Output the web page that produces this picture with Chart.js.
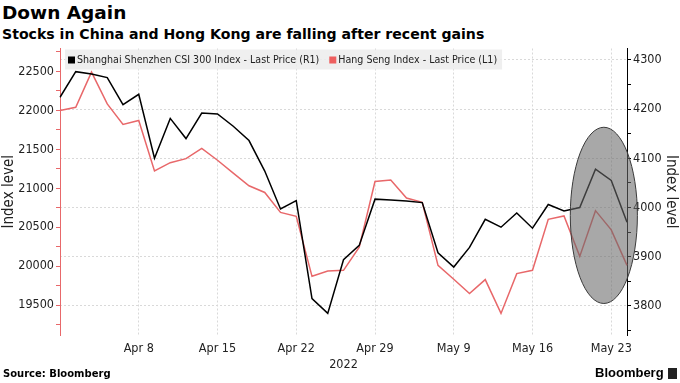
<!DOCTYPE html>
<html>
<head>
<meta charset="utf-8">
<script src="https://cdn.jsdelivr.net/npm/chart.js@4"></script>
<style>
    body { margin: 0; width: 680px; height: 383px; background: #fff; position: relative; overflow: hidden; font-family: "Liberation Sans", Arial, sans-serif; }
    #title { position: absolute; left: 2px; top: 2px; font-family: "DejaVu Sans", sans-serif; font-size: 18.5px; font-weight: bold; color: #000; }
    #subtitle { position: absolute; left: 2px; top: 26px; font-family: "DejaVu Sans", sans-serif; font-size: 14.1px; font-weight: bold; color: #000; }
    #chartBox { position: absolute; left: 0; top: 39px; width: 680px; height: 333px; }
    #source { position: absolute; left: 3px; top: 368px; font-family: "DejaVu Sans", sans-serif; font-size: 10px; font-weight: bold; color: #000; }
    #brand { position: absolute; left: 595px; top: 365px; font-size: 13px; font-weight: bold; color: #000; }
    #brand span { position: absolute; left: 73px; top: 3px; width: 9px; height: 11px; background: #222; }
</style>
</head>
<body>
<div id="title">Down Again</div>
<div id="subtitle">Stocks in China and Hong Kong are falling after recent gains</div>
<div id="chartBox"><canvas id="indexChart"></canvas></div>
<div id="source">Source: Bloomberg</div>
<div id="brand">Bloomberg<span></span></div>

<script>
const dates = [
    'Apr 1', 'Apr 4', 'Apr 5', 'Apr 6', 'Apr 7', 'Apr 8',
    'Apr 11', 'Apr 12', 'Apr 13', 'Apr 14', 'Apr 15',
    'Apr 18', 'Apr 19', 'Apr 20', 'Apr 21', 'Apr 22',
    'Apr 25', 'Apr 26', 'Apr 27', 'Apr 28', 'Apr 29',
    'May 3', 'May 4', 'May 5', 'May 6', 'May 9',
    'May 10', 'May 11', 'May 12', 'May 13', 'May 16',
    'May 17', 'May 18', 'May 19', 'May 20', 'May 23', 'May 24'
];
const tickDates = ['Apr 8', 'Apr 15', 'Apr 22', 'Apr 29', 'May 9', 'May 16', 'May 23'];

const csi300 = [
    4224, 4276, 4271, 4264, 4209, 4230,
    4100, 4181, 4140, 4192, 4190,
    4165, 4136, 4074, 3997, 4014,
    3815, 3785, 3894, 3923, 4017,
    4015, 4013, 4010, 3908, 3879,
    3919, 3976, 3960, 3989, 3958,
    4006, 3993, 4000, 4078, 4055, 3970
];
const hangSeng = [
    21998, 22040, 22491, 22083, 21820, 21871,
    21223, 21329, 21380, 21513, 21360,
    21194, 21032, 20946, 20691, 20640,
    19870, 19938, 19947, 20244, 21087,
    21105, 20875, 20819, 20011, 19832,
    19649, 19828, 19394, 19905, 19947,
    20602, 20645, 20126, 20713, 20466, 20011
];

const leftRange = [19117, 22794];
const rightRange = [3741, 4323];

// highlighted stretch, in category index and CSI 300 units
const highlightX = [32.4, 36.66];
const highlightY = [3805, 4163];

const legendPlugin = {
    id: 'boxLegend',
    afterDraw(chart) {
        const ctx = chart.ctx;
        const area = chart.chartArea;
        const x0 = area.left + 5;
        const y0 = area.top + 1;
        ctx.save();
        ctx.font = '10.6px "DejaVu Sans Condensed", "DejaVu Sans", sans-serif';
        let width = 3;
        chart.data.datasets.forEach(ds => {
            width += 9 + ctx.measureText(ds.label).width + 10;
        });
        ctx.fillStyle = 'rgba(236, 236, 236, 0.85)';
        ctx.fillRect(x0, y0, width - 5, 20);
        let x = x0 + 3;
        chart.data.datasets.forEach(ds => {
            ctx.fillStyle = ds.borderColor === '#000000' ? '#000000' : '#ee5f5f';
            ctx.fillRect(x, y0 + 7, 7, 7);
            ctx.fillStyle = '#222';
            ctx.textBaseline = 'middle';
            ctx.fillText(ds.label, x + 9, y0 + 10.5);
            x += 9 + ctx.measureText(ds.label).width + 10;
        });
        ctx.restore();
    }
};

const ellipsePlugin = {
    id: 'highlightEllipse',
    afterDatasetsDraw(chart) {
        const xs = chart.scales.x;
        const ys = chart.scales.y1;
        const left = xs.getPixelForValue(highlightX[0]);
        const right = xs.getPixelForValue(highlightX[1]);
        const top = ys.getPixelForValue(highlightY[1]);
        const bottom = ys.getPixelForValue(highlightY[0]);
        const ctx = chart.ctx;
        ctx.save();
        ctx.beginPath();
        ctx.ellipse((left + right) / 2, (top + bottom) / 2, (right - left) / 2, (bottom - top) / 2, 0, 0, Math.PI * 2);
        ctx.fillStyle = 'rgba(105, 105, 105, 0.58)';
        ctx.fill();
        ctx.strokeStyle = '#3a3a3a';
        ctx.lineWidth = 1;
        ctx.stroke();
        ctx.restore();
    }
};

document.addEventListener('DOMContentLoaded', function() {
    const tickFont = { family: '"DejaVu Sans Condensed", "DejaVu Sans", sans-serif', size: 12.5 };
    const titleFont = { family: '"DejaVu Sans Condensed", "DejaVu Sans", sans-serif', size: 15 };
    const gridColor = '#d9d9d9';

    new Chart(document.getElementById('indexChart'), {
        type: 'line',
        data: {
            labels: dates,
            datasets: [
                {
                    label: 'Shanghai Shenzhen CSI 300 Index - Last Price (R1)',
                    data: csi300,
                    yAxisID: 'y1',
                    borderColor: '#000000',
                    borderWidth: 1.5,
                    pointRadius: 0,
                    tension: 0
                },
                {
                    label: 'Hang Seng Index - Last Price (L1)',
                    data: hangSeng,
                    yAxisID: 'y',
                    borderColor: '#e8686a',
                    borderWidth: 1.5,
                    pointRadius: 0,
                    tension: 0
                }
            ]
        },
        options: {
            responsive: true,
            maintainAspectRatio: false,
            animation: false,
            layout: { padding: 0 },
            plugins: {
                legend: { display: false },
                tooltip: { enabled: false }
            },
            scales: {
                x: {
                    offset: false,
                    afterFit: scale => { scale.height = 37; },
                    border: { display: false, dash: [2, 2] },
                    grid: {
                        drawTicks: false,
                        color: c => (c.tick && tickDates.includes(dates[c.tick.value])) ? gridColor : 'rgba(0,0,0,0)'
                    },
                    ticks: {
                        autoSkip: false,
                        maxRotation: 0,
                        padding: 6,
                        color: '#222',
                        font: tickFont,
                        callback: function(value) {
                            const label = this.getLabelForValue(value);
                            return tickDates.includes(label) ? label : '';
                        }
                    },
                    title: { display: true, text: '2022', color: '#222', font: tickFont, padding: { top: -2, bottom: 0 } }
                },
                y: {
                    position: 'left',
                    min: leftRange[0],
                    max: leftRange[1],
                    afterFit: scale => { scale.width = 60; },
                    border: { color: '#e8686a', width: 1 },
                    grid: {
                        drawOnChartArea: false,
                        tickLength: 4,
                        tickColor: '#e8686a'
                    },
                    ticks: {
                        stepSize: 250,
                        includeBounds: false,
                        autoSkip: false,
                        padding: 2,
                        color: '#222',
                        font: tickFont,
                        callback: value => value % 500 === 0 ? value : ''
                    },
                    title: { display: true, text: 'Index level', color: '#222', font: titleFont, padding: 0 }
                },
                y1: {
                    position: 'right',
                    min: rightRange[0],
                    max: rightRange[1],
                    afterFit: scale => { scale.width = 53; },
                    border: { color: '#000', width: 1, dash: [2, 2] },
                    grid: {
                        tickLength: 4,
                        tickColor: '#000',
                        color: c => (c.tick && c.tick.value % 100 === 0) ? gridColor : 'rgba(0,0,0,0)'
                    },
                    ticks: {
                        stepSize: 50,
                        includeBounds: false,
                        autoSkip: false,
                        padding: 2,
                        color: '#222',
                        font: tickFont,
                        callback: value => value % 100 === 0 ? value : ''
                    },
                    title: { display: true, text: 'Index level', color: '#222', font: titleFont, padding: 0 }
                }
            }
        },
        plugins: [ellipsePlugin, legendPlugin]
    });
});
</script>
</body>
</html>
